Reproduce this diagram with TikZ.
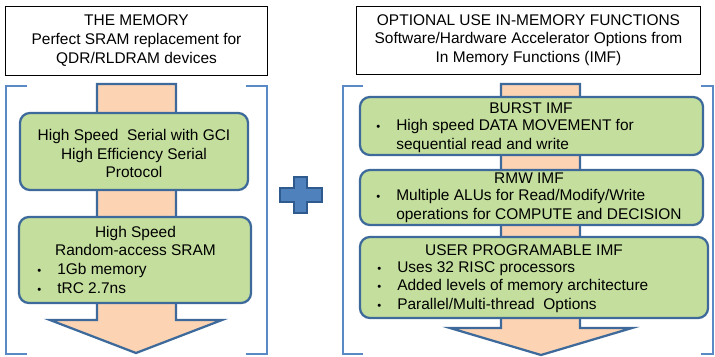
\documentclass[tikz,border=0pt]{standalone}
\usepackage{fontspec}
\setmainfont{Liberation Sans}
\definecolor{boxblue}{HTML}{3D6A9B}
\definecolor{imfgreen}{HTML}{C3DE9D}
\definecolor{flowpeach}{HTML}{FCD4B4}
\definecolor{bracketblue}{HTML}{5A8AC6}
\definecolor{plusfill}{HTML}{4F81BD}
\definecolor{plusline}{HTML}{2F5A8E}
\newcommand{\itm}{\makebox[0.5cm][l]{\fontsize{8}{8}\selectfont\textbullet}}

\begin{document}
\begin{tikzpicture}[x=0.025cm,y=-0.025cm,
    every node/.style={font=\fontsize{11}{13.2}\selectfont},
    titlebox/.style={draw=black,line width=0.7pt,fill=white,align=center,inner sep=0pt},
    imf/.style={draw=boxblue,fill=imfgreen,line width=1.6pt,rounded corners=0.25cm,inner sep=0pt},
    flow/.style={draw=boxblue,fill=flowpeach,line width=1.6pt,line join=miter},
    bracket/.style={draw=bracketblue,line width=1.2pt},
    bullets/.style={align=left,inner sep=0pt,anchor=west}]
    \useasboundingbox (0,0) rectangle (715,356);
    % titles
    \node[titlebox,minimum width=6.525cm,minimum height=1.725cm] (memtitle) at (136.5,40.5)
        {THE MEMORY\\Perfect SRAM replacement for\\QDR/RLDRAM devices};
    \node[titlebox,minimum width=8.575cm,minimum height=1.7cm] (imftitle) at (528.5,40)
        {OPTIONAL USE IN-MEMORY FUNCTIONS\\Software/Hardware\ Accelerator Options from\\In Memory Functions (IMF)};
    % brackets
    \draw[bracket] (27,86) -- (6,86) -- (6,354) -- (27,354);
    \draw[bracket] (246,86) -- (267,86) -- (267,354) -- (246,354);
    \draw[bracket] (363,86) -- (343,86) -- (343,354) -- (363,354);
    \draw[bracket] (701,86) -- (713,86) -- (713,354) -- (701,354);
    % flow arrows
    \draw[flow] (97,84) -- (176,84) -- (176,320) -- (222,320) -- (136,353)
        -- (50,320) -- (97,320) -- cycle;
    \draw[flow] (501,84) -- (580,84) -- (580,328) -- (632,328) -- (541,355)
        -- (450,328) -- (501,328) -- cycle;
    % plus
    \draw[fill=plusfill,draw=plusline,line width=1.4pt]
        (294,177) -- (307,177) -- (307,188) -- (322,188) -- (322,202) -- (307,202)
        -- (307,213) -- (294,213) -- (294,202) -- (280,202) -- (280,188) -- (294,188) -- cycle;
    % the memory
    \node[imf,minimum width=5.7cm,minimum height=1.925cm] (serial) at (134,151.5) {};
    \node[align=center,inner sep=0pt] (serialtxt) at (134,153.5)
        {High Speed\ \ Serial with GCI\\High Efficiency Serial\\Protocol};
    \node[imf,minimum width=5.8cm,minimum height=2.15cm] (sram) at (135,260) {};
    \node[align=center,inner sep=0pt] (sramtxt) at (135.5,241) {High Speed\\Random-access SRAM};
    \node[bullets] (sramlist) at (37,278.5) {\itm 1Gb memory\\\itm tRC 2.7ns};
    % in-memory functions
    \node[imf,minimum width=8.575cm,minimum height=1.45cm] (burst) at (531.5,126) {};
    \node[inner sep=0pt] (bursttxt) at (531,108) {BURST IMF};
    \node[bullets] (burstlist) at (376,136)
        {\itm High speed DATA MOVEMENT for\\\hspace*{0.5cm}sequential read and write};
    \node[imf,minimum width=8.575cm,minimum height=1.375cm] (rmw) at (531.5,197.5) {};
    \node[inner sep=0pt] (rmwtxt) at (529,178) {RMW IMF};
    \node[bullets] (rmwlist) at (376,206)
        {\itm Multiple ALUs for Read/Modify/Write\\\hspace*{0.5cm}operations for COMPUTE and DECISION};
    \node[imf,minimum width=8.7cm,minimum height=2.025cm] (user) at (534,277.5) {};
    \node[inner sep=0pt] (usertxt) at (524,250) {USER PROGRAMABLE IMF};
    \node[bullets] (userlist) at (377,287)
        {\itm Uses 32 RISC processors\\\itm Added levels of memory architecture\\\itm Parallel/Multi-thread\ \ Options};
\end{tikzpicture}
\end{document}
